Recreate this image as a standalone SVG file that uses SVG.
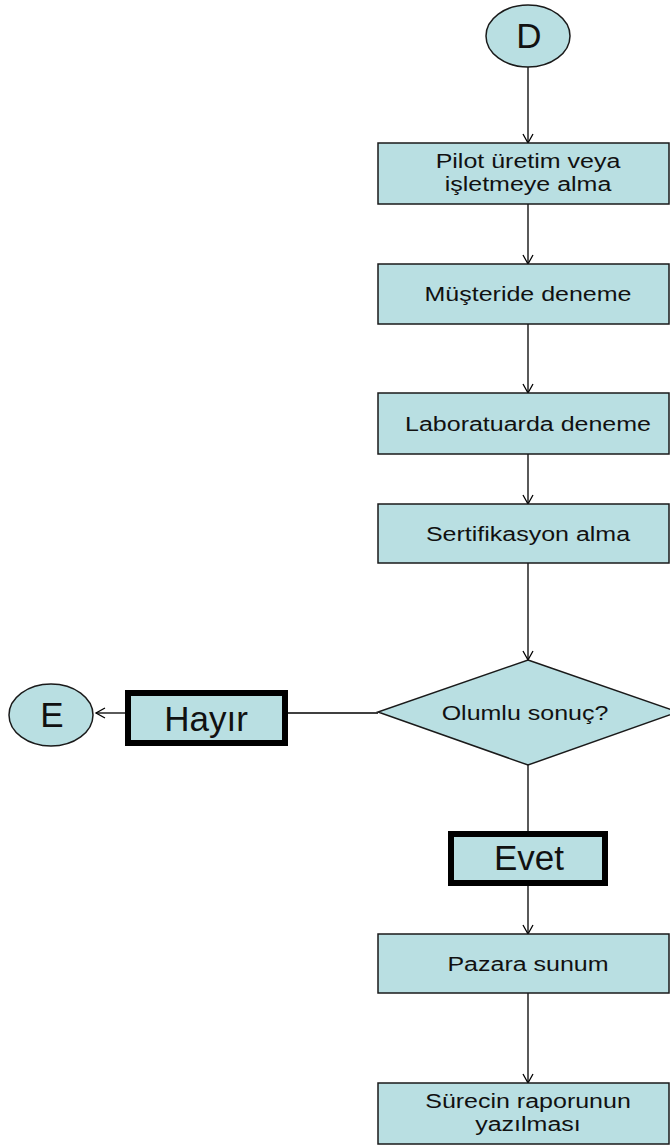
<svg xmlns="http://www.w3.org/2000/svg" width="670" height="1148" viewBox="0 0 670 1148">
  <defs>
    <marker id="arrow" markerWidth="12" markerHeight="12" refX="10" refY="6" orient="auto" markerUnits="userSpaceOnUse">
      <path d="M1,1 L10,6 L1,11" fill="none" stroke="#000" stroke-width="1.3"/>
    </marker>
  </defs>
  <style>
    .box { fill: #b9dfe2; stroke: #1a1a1a; stroke-width: 1.5; }
    .bold { fill: #b9dfe2; stroke: #000; stroke-width: 6; }
    .lbl { font-family: "Liberation Sans", Arial, sans-serif; font-size: 20px; fill: #111; text-anchor: middle; }
    .big { font-family: "Liberation Sans", Arial, sans-serif; font-size: 35px; fill: #111; text-anchor: middle; }
    .conn { fill: none; stroke: #000; stroke-width: 1.3; }
  </style>
  <rect width="670" height="1148" fill="#fff"/>

  <g id="connectors">
    <line class="conn" x1="528" y1="67" x2="528" y2="143" marker-end="url(#arrow)"/>
    <line class="conn" x1="528" y1="204" x2="528" y2="264" marker-end="url(#arrow)"/>
    <line class="conn" x1="528" y1="324" x2="528" y2="393" marker-end="url(#arrow)"/>
    <line class="conn" x1="528" y1="454" x2="528" y2="504" marker-end="url(#arrow)"/>
    <line class="conn" x1="528" y1="563" x2="528" y2="660" marker-end="url(#arrow)"/>
    <line class="conn" x1="378" y1="713" x2="288" y2="713"/>
    <line class="conn" x1="125" y1="713" x2="96" y2="713" marker-end="url(#arrow)"/>
    <line class="conn" x1="528" y1="765" x2="528" y2="831"/>
    <line class="conn" x1="528" y1="886" x2="528" y2="934" marker-end="url(#arrow)"/>
    <line class="conn" x1="528" y1="993" x2="528" y2="1083" marker-end="url(#arrow)"/>
  </g>

  <g id="node-d">
    <ellipse class="box" cx="528" cy="36" rx="42" ry="31"/>
    <text class="big" x="529" y="48">D</text>
  </g>

  <!-- box labels are set in a widened face: 20px glyphs stretched 1.25x horizontally -->
  <g id="node-pilot">
    <rect class="box" x="378" y="143" width="291" height="61"/>
    <g transform="translate(528,0) scale(1.25,1)">
      <text class="lbl" x="0" y="168">Pilot üretim veya</text>
      <text class="lbl" x="0" y="191">işletmeye alma</text>
    </g>
  </g>

  <g id="node-musteri">
    <rect class="box" x="378" y="264" width="291" height="60"/>
    <text class="lbl" transform="translate(528,301) scale(1.25,1)">Müşteride deneme</text>
  </g>

  <g id="node-lab">
    <rect class="box" x="378" y="393" width="291" height="61"/>
    <text class="lbl" transform="translate(528,431) scale(1.25,1)">Laboratuarda deneme</text>
  </g>

  <g id="node-sertifika">
    <rect class="box" x="378" y="504" width="291" height="59"/>
    <text class="lbl" transform="translate(528,541) scale(1.25,1)">Sertifikasyon alma</text>
  </g>

  <g id="node-karar">
    <polygon class="box" points="528,660 678,712 528,765 378,712"/>
    <text class="lbl" transform="translate(525,720) scale(1.25,1)">Olumlu sonuç?</text>
  </g>

  <g id="node-hayir">
    <rect class="bold" x="128" y="693" width="157" height="50"/>
    <text class="big" x="206" y="731">Hayır</text>
  </g>

  <g id="node-e">
    <ellipse class="box" cx="51" cy="715" rx="42" ry="31"/>
    <text class="big" x="52" y="727">E</text>
  </g>

  <g id="node-evet">
    <rect class="bold" x="451" y="834" width="154" height="49"/>
    <text class="big" x="529" y="870">Evet</text>
  </g>

  <g id="node-pazar">
    <rect class="box" x="378" y="934" width="291" height="59"/>
    <text class="lbl" transform="translate(528,971) scale(1.25,1)">Pazara sunum</text>
  </g>

  <g id="node-rapor">
    <rect class="box" x="378" y="1083" width="291" height="61"/>
    <g transform="translate(528,0) scale(1.25,1)">
      <text class="lbl" x="0" y="1108">Sürecin raporunun</text>
      <text class="lbl" x="0" y="1131">yazılması</text>
    </g>
  </g>
</svg>
